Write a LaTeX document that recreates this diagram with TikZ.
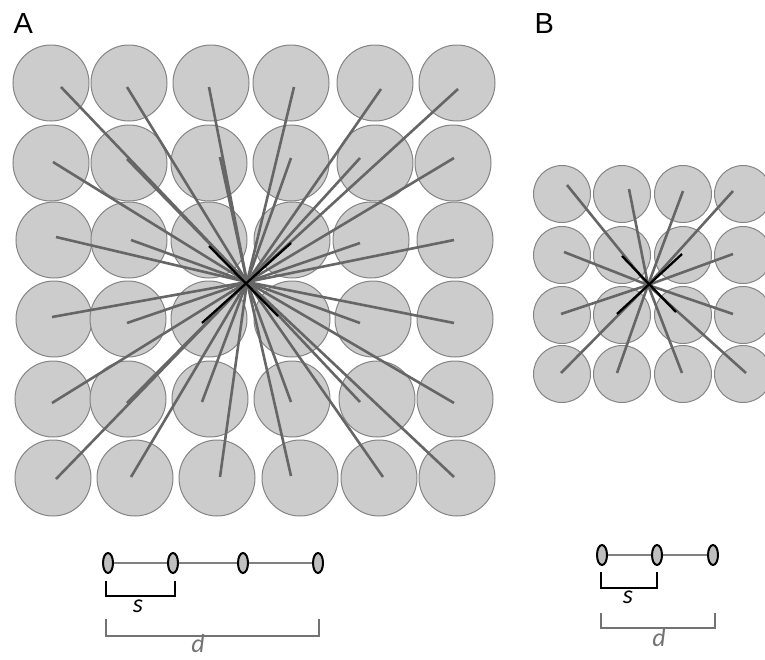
\documentclass[tikz,border=0pt]{standalone}
\usepackage{fontspec}
\setmainfont{Liberation Sans}
\newfontfamily\labfont{Carlito}
\usetikzlibrary{shapes.geometric}
\tikzset{
  cell/.style={circle,draw=black!48,fill=black!20,line width=1pt,inner sep=0pt,minimum size=#1},
  ray/.style={draw=black!60,line width=2.6pt},
  crossray/.style={draw=black,line width=2.3pt},
  bead/.style={ellipse,draw=black,fill=black!25,line width=2pt,inner sep=0pt,minimum width=10pt,minimum height=20pt},
  bar/.style={draw=black!50,line width=2.2pt},
  sbrace/.style={draw=black,line width=2.2pt},
  dbrace/.style={draw=black!55,line width=2.2pt},
  panel/.style={font=\fontsize{29}{29}\selectfont,anchor=base west},
  mlabel/.style={font=\labfont\itshape\fontsize{26}{26}\selectfont,inner sep=1pt}
}
\begin{document}
\begin{tikzpicture}[x=1pt,y=-1pt]
\useasboundingbox (0,0) rectangle (765,659);

% ---------- panel A ----------
\node[panel] (labA) at (10,33) {A};
\foreach \r/\y/\xs in {1/83/{51,129,211,291,375,457},
                       2/163/{51,129,209,291,375,453},
                       3/240/{54,129,209,292,371,455},
                       4/319/{54,128,209,292,373,455},
                       5/399/{53,128,210,292,377,455},
                       6/478/{53,135,217,300,379,457}}{
  \foreach \x [count=\c] in \xs {
    \node[cell=76pt] (a-\r-\c) at (\x,\y) {};
  }
}
\coordinate (cA) at (247,282);
% end points of the rays
\foreach \n/\p in {1/{61,87},2/{127,87},3/{209,87},4/{294,87},5/{381,89},6/{458,89},
                   7/{53,162},8/{127,159},9/{220,157},10/{291,158},11/{360,158},12/{454,158},
                   13/{56,237},14/{131,240},15/{360,243},16/{454,240},
                   17/{52,317},18/{127,323},19/{360,323},20/{454,323},
                   21/{52,403},22/{127,403},23/{202,402},24/{291,402},25/{360,402},26/{454,403},
                   27/{56,479},28/{131,477},29/{220,477},30/{291,476},31/{383,477},32/{454,477}}{
  \coordinate (ea-\n) at (\p);
  \draw[ray] (cA) -- (ea-\n);
}
\coordinate (xa1) at (209,246);
\coordinate (xa2) at (278,316);
\coordinate (xa3) at (291,243);
\coordinate (xa4) at (202,323);
\draw[crossray] (xa1) -- (xa2);
\draw[crossray] (xa3) -- (xa4);

% ---------- panel B ----------
\node[panel] (labB) at (531,33) {B};
\foreach \r/\y in {1/194,2/255,3/315,4/374}{
  \foreach \x [count=\c] in {562,622,683,743}{
    \node[cell=57pt] (b-\r-\c) at (\x,\y) {};
  }
}
\coordinate (cB) at (648,285);
\foreach \n/\p in {1/{567,185},2/{629,189},3/{683,191},4/{733,191},
                   5/{564,252},6/{733,254},7/{561,314},8/{733,314},
                   9/{561,373},10/{617,373},11/{682,373},12/{746,373}}{
  \coordinate (eb-\n) at (\p);
  \draw[ray] (cB) -- (eb-\n);
}
\coordinate (xb1) at (622,256);
\coordinate (xb2) at (676,312);
\coordinate (xb3) at (682,254);
\coordinate (xb4) at (617,314);
\draw[crossray] (xb1) -- (xb2);
\draw[crossray] (xb3) -- (xb4);

% ---------- spacing scale A ----------
\node[bead] (sa1) at (108,563) {};
\node[bead] (sa2) at (173,563) {};
\node[bead] (sa3) at (243,563) {};
\node[bead] (sa4) at (318,563) {};
\draw[bar] (sa1) -- (sa2);
\draw[bar] (sa2) -- (sa3);
\draw[bar] (sa3) -- (sa4);
\draw[sbrace] (106,581) -- (106,596) -- (175,596) -- (175,581);
\node[mlabel] (sA) at (138,606) {s};
\draw[dbrace] (106,619) -- (106,636) -- (319,636) -- (319,619);
\node[mlabel,text=black!55] (dA) at (198,644) {d};

% ---------- spacing scale B ----------
\node[bead] (sb1) at (602,555) {};
\node[bead] (sb2) at (657,555) {};
\node[bead] (sb3) at (713,555) {};
\draw[bar] (sb1) -- (sb2);
\draw[bar] (sb2) -- (sb3);
\draw[sbrace] (601,572) -- (601,588) -- (657,588) -- (657,572);
\node[mlabel] (sB) at (628,597) {s};
\draw[dbrace] (601,613) -- (601,628) -- (715,628) -- (715,613);
\node[mlabel,text=black!55] (dB) at (659,638) {d};
\end{tikzpicture}
\end{document}
